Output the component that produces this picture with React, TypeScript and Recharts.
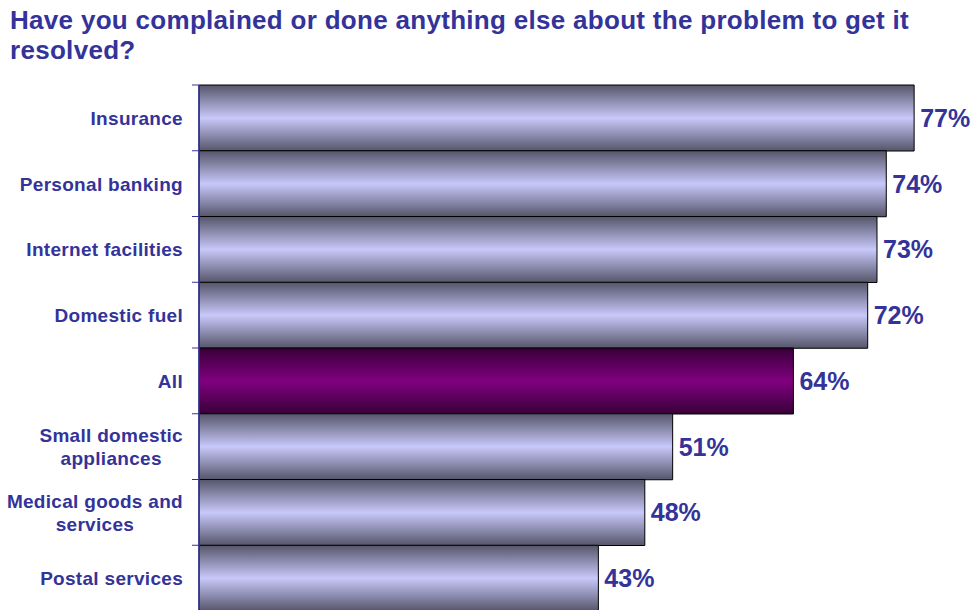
import React from 'react';
import { BarChart, Bar, XAxis, YAxis, Cell, LabelList } from 'recharts';

const categories = [
  'Insurance',
  'Personal banking',
  'Internet facilities',
  'Domestic fuel',
  'All',
  'Small domestic appliances',
  'Medical goods and services',
  'Postal services',
];
const tickLines = [
  ['Insurance'],
  ['Personal banking'],
  ['Internet facilities'],
  ['Domestic fuel'],
  ['All'],
  ['Small domestic', 'appliances'],
  ['Medical goods and', 'services'],
  ['Postal services'],
];
const values = [77, 74, 73, 72, 64, 51, 48, 43];
const highlighted = 'All';
const titleLines = ['Have you complained or done anything else about the problem to get it', 'resolved?'];

const data = categories.map((c, i) => ({ name: c, value: values[i] }));

const W = 973;
const H = 620;
const TOP = 85;
const BOTTOM = 9;
const AXIS_X = 199;
const BAND = (H - TOP - BOTTOM) / categories.length;
const TEXT = '#333399';
const FONT = "'Liberation Sans', Arial, sans-serif";
const LABEL_SIZE = 19;
const LABEL_SPACING = 0.3;

let ctx: CanvasRenderingContext2D | null = null;
function measure(t: string) {
  if (!ctx) {
    const c = document.createElement('canvas');
    ctx = c.getContext('2d');
  }
  if (!ctx) return t.length * 10;
  ctx.font = `bold ${LABEL_SIZE}px 'Liberation Sans'`;
  return ctx.measureText(t).width + LABEL_SPACING * t.length;
}

function CategoryTick(props: any) {
  const { y, index } = props;
  const lines = tickLines[index] || [props.payload.value];
  const maxW = Math.max(...lines.map(measure));
  const right = AXIS_X - 16;
  const cx = right - maxW / 2;
  const lineH = 23;
  const first = y + 7 - ((lines.length - 1) * lineH) / 2;
  const isLast = index === categories.length - 1;
  return (
    <g>
      {lines.map((l: string, i: number) => (
        <text
          key={i}
          x={cx}
          y={first + i * lineH}
          textAnchor="middle"
          fill={TEXT}
          fontFamily={FONT}
          fontWeight="bold"
          fontSize={LABEL_SIZE}
          letterSpacing={LABEL_SPACING}
        >
          {l}
        </text>
      ))}
      <line x1={AXIS_X - 7} x2={AXIS_X} y1={y - BAND / 2} y2={y - BAND / 2} stroke={TEXT} strokeWidth={1} />
      {isLast && (
        <line x1={AXIS_X - 7} x2={AXIS_X} y1={y + BAND / 2} y2={y + BAND / 2} stroke={TEXT} strokeWidth={1} />
      )}
    </g>
  );
}

export default function App() {
  return (
    <div
      style={{
        position: 'fixed',
        left: 0,
        top: 0,
        width: W,
        height: 610,
        overflow: 'hidden',
        background: '#fff',
      }}
    >
      <div
        style={{
          position: 'absolute',
          left: 10,
          top: 5,
          width: 960,
          fontFamily: FONT,
          fontWeight: 'bold',
          fontSize: 26,
          letterSpacing: 0.3,
          lineHeight: '30px',
          color: TEXT,
          whiteSpace: 'nowrap',
        }}
      >
        {titleLines.map((l, i) => (
          <div key={i}>{l}</div>
        ))}
      </div>
      <BarChart
        width={W}
        height={H}
        data={data}
        layout="vertical"
        margin={{ top: TOP, right: 31, bottom: BOTTOM, left: 0 }}
        barCategoryGap={0}
        style={{ position: 'absolute', left: 0, top: 0 }}
      >
        <defs>
          <linearGradient id="gLav" x1="0" y1="0" x2="0" y2="1">
            <stop offset="0%" stopColor="#55556a" />
            <stop offset="50%" stopColor="#c8c8fa" />
            <stop offset="100%" stopColor="#55556a" />
          </linearGradient>
          <linearGradient id="gPur" x1="0" y1="0" x2="0" y2="1">
            <stop offset="0%" stopColor="#380038" />
            <stop offset="50%" stopColor="#800080" />
            <stop offset="100%" stopColor="#380038" />
          </linearGradient>
        </defs>
        <XAxis type="number" domain={[0, 80]} hide />
        <YAxis
          type="category"
          dataKey="name"
          width={AXIS_X}
          axisLine={{ stroke: TEXT, strokeWidth: 1.5 }}
          tickLine={false}
          tick={<CategoryTick />}
          interval={0}
        />
        <Bar dataKey="value" isAnimationActive={false} stroke="#000" strokeWidth={1}>
          {data.map((d, i) => (
            <Cell key={i} fill={d.name === highlighted ? 'url(#gPur)' : 'url(#gLav)'} />
          ))}
          <LabelList
            dataKey="value"
            position="right"
            offset={6}
            formatter={(v: any) => `${v}%`}
            fill={TEXT}
            fontFamily={FONT}
            fontWeight="bold"
            fontSize={25}
          />
        </Bar>
      </BarChart>
    </div>
  );
}
